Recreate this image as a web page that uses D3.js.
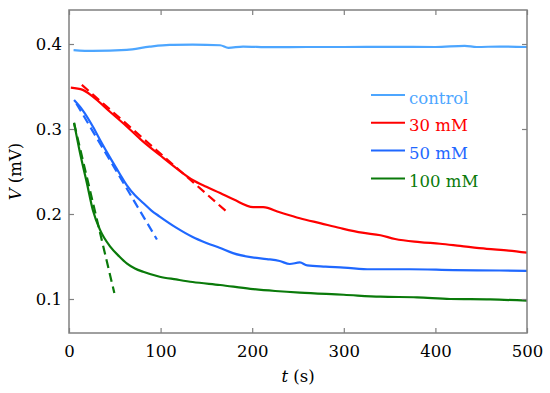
<!DOCTYPE html>
<html>
<head>
<meta charset="utf-8">
<script src="https://cdn.jsdelivr.net/npm/d3@7"></script>
<style>
  body { margin: 0; background: #fff; }
  text { font-family: "DejaVu Serif", serif; }
</style>
</head>
<body>
<div id="chart"></div>
<script>
// values
var controlT = [5, 26, 63, 88, 110, 135, 165, 174, 190, 220, 260, 300, 350, 400, 432, 445, 470, 500];
var controlV = [0.3929, 0.3918, 0.393, 0.3969, 0.399, 0.3992, 0.3985, 0.3955, 0.397, 0.3963, 0.3965, 0.3965, 0.3966, 0.3965, 0.3978, 0.3965, 0.397, 0.3965];

var redT = [2, 15, 26, 45, 63, 80, 99, 117, 135, 150, 165, 180, 201, 212, 230, 252, 275, 296, 320, 340, 356, 383, 405, 427, 456, 480, 500];
var redV = [0.3486, 0.346, 0.338, 0.320, 0.303, 0.286, 0.2694, 0.254, 0.240, 0.232, 0.2247, 0.217, 0.2082, 0.208, 0.202, 0.195, 0.189, 0.1835, 0.178, 0.175, 0.1706, 0.167, 0.165, 0.1624, 0.159, 0.157, 0.1545];

var blueT = [5.5, 15, 26, 35, 45, 55, 63, 72, 81, 90, 99, 117, 135, 150, 165, 179, 200, 216, 230, 241, 252, 260, 280, 300, 329, 372, 420, 470, 500];
var blueV = [0.334, 0.322, 0.303, 0.285, 0.266, 0.248, 0.234, 0.222, 0.213, 0.204, 0.197, 0.184, 0.173, 0.166, 0.160, 0.154, 0.149, 0.147, 0.1447, 0.1412, 0.143, 0.1395, 0.138, 0.137, 0.135, 0.135, 0.134, 0.1335, 0.133];

var greenT = [5.5, 12, 19.5, 26, 34, 45, 55, 63, 72, 81, 99, 117, 135, 165, 198, 225, 252, 300, 340, 380, 416, 460, 500];
var greenV = [0.3074, 0.272, 0.2365, 0.2047, 0.181, 0.1616, 0.150, 0.142, 0.136, 0.132, 0.1262, 0.123, 0.120, 0.1165, 0.112, 0.1094, 0.1074, 0.105, 0.1027, 0.102, 0.100, 0.0995, 0.098];

// dashed initial-slope lines (two end points each)
var redFitT = [14, 174], redFitV = [0.352, 0.201];
var blueFitT = [8, 96], blueFitV = [0.33, 0.170];
var greenFitT = [5.5, 49.5], greenFitV = [0.307, 0.107];

var xTicks = [0, 100, 200, 300, 400, 500];
var yTicks = [0.1, 0.2, 0.3, 0.4];

var legendNames = ["control", "30 mM", "50 mM", "100 mM"];
var colors = ["#4da6ff", "#ff0000", "#1f68ff", "#0a7a0a"];

var svg_width = 550, svg_height = 393;
var margin = {top: 10, right: 23, bottom: 60, left: 69};
var width = svg_width - margin.left - margin.right;
var height = svg_height - margin.top - margin.bottom;

var svg = d3.select("#chart").append("svg")
  .attr("width", svg_width)
  .attr("height", svg_height);

var g = svg.append("g")
  .attr("transform", "translate(" + margin.left + "," + margin.top + ")");

var x = d3.scaleLinear().domain([0, 500]).range([0, width]);
var y = d3.scaleLinear().domain([0.06, 0.44]).range([height, 0]);

function zip(t, v) {
  return t.map(function(d, i) { return [d, v[i]]; });
}

var line = d3.line()
  .x(function(d) { return x(d[0]); })
  .y(function(d) { return y(d[1]); })
  .curve(d3.curveMonotoneX);

var series = [
  zip(controlT, controlV),
  zip(redT, redV),
  zip(blueT, blueV),
  zip(greenT, greenV)
];
var fits = [
  [zip(redFitT, redFitV), colors[1]],
  [zip(blueFitT, blueFitV), colors[2]],
  [zip(greenFitT, greenFitV), colors[3]]
];

// dashed lines below the curves
fits.forEach(function(f) {
  g.append("path")
    .attr("d", d3.line().x(function(d) { return x(d[0]); }).y(function(d) { return y(d[1]); })(f[0]))
    .attr("fill", "none")
    .attr("stroke", f[1])
    .attr("stroke-width", 2.2)
    .attr("stroke-dasharray", "9,5");
});

series.forEach(function(s, i) {
  g.append("path")
    .attr("d", line(s))
    .attr("fill", "none")
    .attr("stroke", colors[i])
    .attr("stroke-width", 2.2);
});

// axes: ticks pointing inward on all four sides
var axisColor = "#808080";
var xb = g.append("g").attr("transform", "translate(0," + height + ")")
  .call(d3.axisBottom(x).tickValues(xTicks).tickSizeInner(-5).tickSizeOuter(0).tickPadding(12));
var xt = g.append("g")
  .call(d3.axisTop(x).tickValues(xTicks).tickSizeInner(-5).tickSizeOuter(0).tickFormat(""));
var yl = g.append("g")
  .call(d3.axisLeft(y).tickValues(yTicks).tickSizeInner(-5).tickSizeOuter(0).tickPadding(7).tickFormat(d3.format(".1f")));
var yr = g.append("g").attr("transform", "translate(" + width + ",0)")
  .call(d3.axisRight(y).tickValues(yTicks).tickSizeInner(-5).tickSizeOuter(0).tickFormat(""));

[xb, xt, yl, yr].forEach(function(a) {
  a.select(".domain").remove();
  a.selectAll(".tick line").attr("stroke", axisColor).attr("stroke-width", 1.2);
  a.selectAll(".tick text")
    .attr("fill", "#000")
    .style("font-family", "'DejaVu Serif', serif")
    .style("font-size", "16.5px");
});

g.append("rect")
  .attr("width", width)
  .attr("height", height)
  .attr("fill", "none")
  .attr("stroke", axisColor)
  .attr("stroke-width", 1.5);

// axis titles
svg.append("text")
  .attr("x", margin.left + width / 2)
  .attr("y", 382)
  .attr("text-anchor", "middle")
  .style("font-size", "16.5px")
  .html('<tspan font-style="italic">t</tspan> (s)');

svg.append("text")
  .attr("transform", "translate(21," + (margin.top + height / 2) + ") rotate(-90)")
  .attr("text-anchor", "middle")
  .style("font-size", "16.5px")
  .html('<tspan font-style="italic">V</tspan> (mV)');

// legend
var legend = svg.append("g");
legendNames.forEach(function(name, i) {
  var ly = 95 + i * 27.8;
  legend.append("line")
    .attr("x1", 371).attr("x2", 405)
    .attr("y1", ly).attr("y2", ly)
    .attr("stroke", colors[i])
    .attr("stroke-width", 2);
  legend.append("text")
    .attr("x", 409)
    .attr("y", ly + 8.5)
    .attr("fill", colors[i])
    .style("font-size", "16.5px")
    .text(name);
});
</script>
</body>
</html>
